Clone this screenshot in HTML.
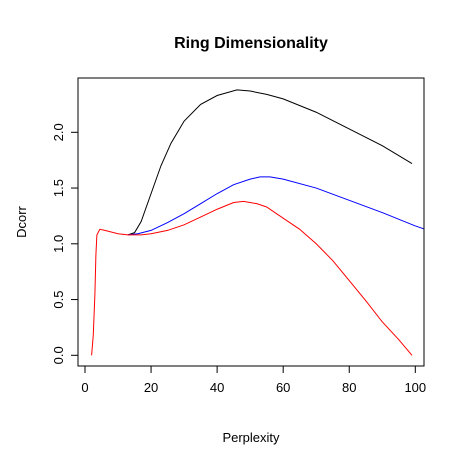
<!DOCTYPE html>
<html><head><meta charset="utf-8"><style>
body{margin:0;background:#fff}
svg text{font-family:"Liberation Sans",Arial,sans-serif}
</style></head><body>
<svg width="465" height="464">
<text x="251" y="48" text-anchor="middle" font-weight="bold" font-size="16">Ring Dimensionality</text>
<text x="251" y="442" text-anchor="middle" font-size="13">Perplexity</text>
<text transform="translate(26,222) rotate(-90)" text-anchor="middle" font-size="13">Dcorr</text>
<defs><clipPath id="cp"><rect x="78" y="78" width="346" height="288"/></clipPath></defs>
<g id="axes"></g>
<g id="series" clip-path="url(#cp)"></g>
<rect x="78" y="78" width="346" height="288" fill="none" stroke="#000"/>
</svg>
<script>
const xTicks=[0,20,40,60,80,100];
const yTicks=[0,0.5,1,1.5,2];
const yTickLabels=["0.0","0.5","1.0","1.5","2.0"];
const blackX=[13,15,17,20,23,26,30,35,40,46,50,55,60,70,80,90,99];
const blackY=[1.08,1.1,1.2,1.45,1.7,1.9,2.1,2.25,2.33,2.38,2.37,2.34,2.3,2.18,2.03,1.88,1.72];
const blueX=[13,16,20,25,30,35,40,45,50,53,56,60,70,80,90,100,103];
const blueY=[1.08,1.09,1.12,1.19,1.27,1.36,1.45,1.53,1.58,1.6,1.6,1.58,1.5,1.39,1.28,1.16,1.13];
const redX=[2,2.5,3,3.3,3.6,4.5,6,10,13,17,20,25,30,35,40,45,48,52,55,60,65,70,75,80,85,90,95,99];
const redY=[0,0.18,0.55,0.9,1.08,1.13,1.12,1.09,1.08,1.08,1.09,1.12,1.17,1.24,1.31,1.37,1.38,1.36,1.33,1.23,1.13,1.0,0.85,0.67,0.49,0.3,0.14,0];
const xs=p=>85+3.303*p, ys=v=>355.3-111.5*v;
const NS="http://www.w3.org/2000/svg";
const ax=document.getElementById('axes'), sg=document.getElementById('series');
function mk(t,a,parent){const e=document.createElementNS(NS,t);for(const k in a)e.setAttribute(k,a[k]);parent.appendChild(e);return e;}
xTicks.forEach(t=>{
 const l=mk('line',{x1:xs(t),x2:xs(t),y1:366,y2:373,stroke:'#000'},ax);
 
 
 const tx=mk('text',{x:xs(t),y:392,'text-anchor':'middle','font-size':13},ax);tx.textContent=t;
 
 
});
yTicks.forEach((t,i)=>{
 const l=mk('line',{x1:71,x2:78,y1:ys(t),y2:ys(t),stroke:'#000'},ax);
 
 
 const tx=mk('text',{transform:`translate(63,${ys(t)}) rotate(-90)`,'text-anchor':'middle','font-size':13},ax);tx.textContent=yTickLabels[i];
 
 
});
function line(X,Y,c,n){
 const p=mk('polyline',{points:X.map((x,i)=>xs(x)+','+ys(Y[i])).join(' '),fill:'none',stroke:c,'stroke-width':1},sg);
 
 
}
line(blackX,blackY,'#000','black-series');
line(blueX,blueY,'#00f','blue-series');
line(redX,redY,'#f00','red-series');
</script>
</body></html>
